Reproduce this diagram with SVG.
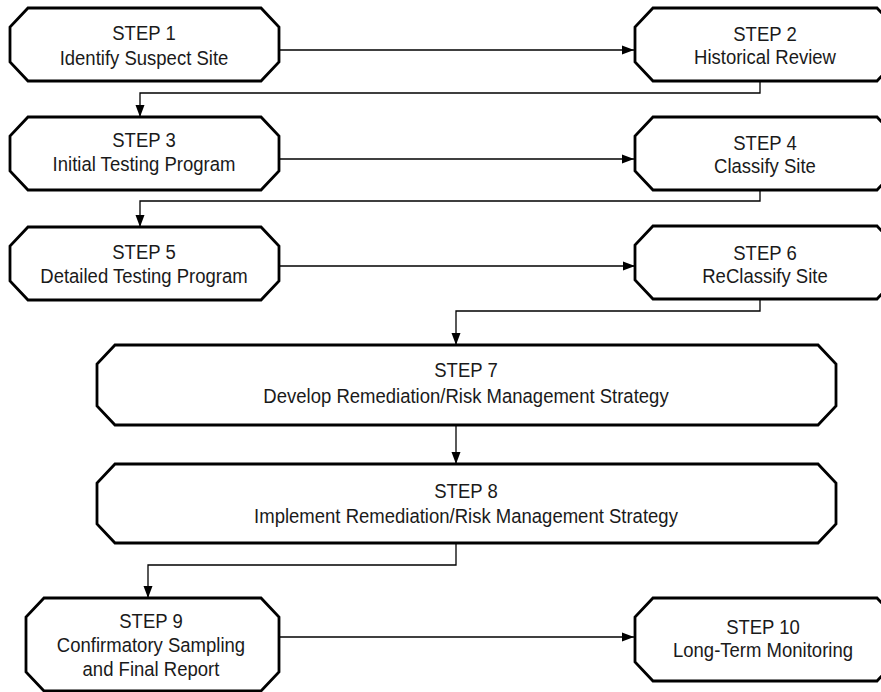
<svg xmlns="http://www.w3.org/2000/svg" width="881" height="692" viewBox="0 0 881 692">
<style>
.box{fill:#fff;stroke:#000;stroke-width:2.8;stroke-linejoin:miter}
.t{font-family:"Liberation Sans",Arial,sans-serif;font-size:19.5px;fill:#1a1a1a;text-anchor:middle}
.c{fill:none;stroke:#000;stroke-width:1.3}
</style>
<defs>
<marker id="ah" markerUnits="userSpaceOnUse" markerWidth="12" markerHeight="10" refX="12" refY="5" orient="auto">
<path d="M0,0.5 L12,5 L0,9.5 Z" fill="#000"/>
</marker>
</defs>
<rect width="881" height="692" fill="#fff"/>
<g id="connectors">
<path class="c" d="M279,50 H634" marker-end="url(#ah)"/>
<path class="c" d="M760,81 V93 H140 V117" marker-end="url(#ah)"/>
<path class="c" d="M279,159 H634" marker-end="url(#ah)"/>
<path class="c" d="M760,190 V201 H140 V227" marker-end="url(#ah)"/>
<path class="c" d="M279,266 H635" marker-end="url(#ah)"/>
<path class="c" d="M760,299 V311 H456 V345" marker-end="url(#ah)"/>
<path class="c" d="M456,425 V464" marker-end="url(#ah)"/>
<path class="c" d="M456,543 V565 H148 V598" marker-end="url(#ah)"/>
<path class="c" d="M279,637 H634" marker-end="url(#ah)"/>
</g>
<g id="step1">
<polygon class="box" points="28,8 261,8 279,27 279,62 261,81 28,81 10,62 10,27"/>
<text class="t" transform="scale(0.95,1)" x="151.58" y="40">STEP 1</text>
<text class="t" transform="scale(0.95,1)" x="151.58" y="65">Identify Suspect Site</text>
</g>
<g id="step2">
<polygon class="box" points="653,8 877,8 895,27 895,62 877,81 653,81 635,62 635,27"/>
<text class="t" transform="scale(0.95,1)" x="805.26" y="41">STEP 2</text>
<text class="t" transform="scale(0.95,1)" x="805.26" y="64">Historical Review</text>
</g>
<g id="step3">
<polygon class="box" points="28,117 261,117 279,136 279,171 261,190 28,190 10,171 10,136"/>
<text class="t" transform="scale(0.95,1)" x="151.58" y="147">STEP 3</text>
<text class="t" transform="scale(0.95,1)" x="151.58" y="171">Initial Testing Program</text>
</g>
<g id="step4">
<polygon class="box" points="653,117 877,117 895,136 895,171 877,190 653,190 635,171 635,136"/>
<text class="t" transform="scale(0.95,1)" x="805.26" y="150">STEP 4</text>
<text class="t" transform="scale(0.95,1)" x="805.26" y="173">Classify Site</text>
</g>
<g id="step5">
<polygon class="box" points="28,227 261,227 279,246 279,281 261,300 28,300 10,281 10,246"/>
<text class="t" transform="scale(0.95,1)" x="151.58" y="259">STEP 5</text>
<text class="t" transform="scale(0.95,1)" x="151.58" y="283">Detailed Testing Program</text>
</g>
<g id="step6">
<polygon class="box" points="653,226 877,226 895,245 895,280 877,299 653,299 635,280 635,245"/>
<text class="t" transform="scale(0.95,1)" x="805.26" y="260">STEP 6</text>
<text class="t" transform="scale(0.95,1)" x="805.26" y="283">ReClassify Site</text>
</g>
<g id="step7">
<polygon class="box" points="115,345 818,345 836,364 836,406 818,425 115,425 97,406 97,364"/>
<text class="t" transform="scale(0.95,1)" x="490.53" y="377">STEP 7</text>
<text class="t" transform="scale(0.95,1)" x="490.53" y="403">Develop Remediation/Risk Management Strategy</text>
</g>
<g id="step8">
<polygon class="box" points="115,464 818,464 836,483 836,524 818,543 115,543 97,524 97,483"/>
<text class="t" transform="scale(0.95,1)" x="490.53" y="498">STEP 8</text>
<text class="t" transform="scale(0.95,1)" x="490.53" y="523">Implement Remediation/Risk Management Strategy</text>
</g>
<g id="step9">
<polygon class="box" points="44,598 261,598 279,617 279,672 261,691 44,691 26,672 26,617"/>
<text class="t" transform="scale(0.95,1)" x="158.95" y="628">STEP 9</text>
<text class="t" transform="scale(0.95,1)" x="158.95" y="652">Confirmatory Sampling</text>
<text class="t" transform="scale(0.95,1)" x="158.95" y="676">and Final Report</text>
</g>
<g id="step10">
<polygon class="box" points="653,598 877,598 895,617 895,662 877,681 653,681 635,662 635,617"/>
<text class="t" transform="scale(0.95,1)" x="803.16" y="634">STEP 10</text>
<text class="t" transform="scale(0.95,1)" x="803.16" y="657">Long-Term Monitoring</text>
</g>
</svg>
